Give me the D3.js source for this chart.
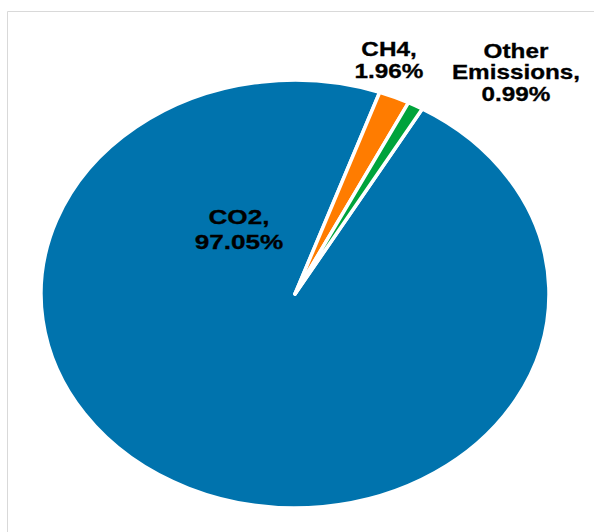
<!DOCTYPE html>
<html>
<head>
<meta charset="utf-8">
<script src="https://cdn.jsdelivr.net/npm/d3@7"></script>
<style>
  html, body { margin: 0; padding: 0; background: #fff; }
  svg { display: block; }
</style>
</head>
<body>
<div id="chart"></div>
<script>
(() => {
  const width = 594;
  const height = 532;

  // data
  const categories = ["CO2", "CH4", "Other Emissions"];
  const shares = [97.05, 1.96, 0.99];
  const colors = ["#0073ad", "#ff7c00", "#00a33b"];

  // ellipse (the pie is stretched horizontally)
  const cx = 295, cy = 294;
  const rx = 254, ry = 214;
  const sx = rx / ry;

  const svg = d3.select("#chart")
    .append("svg")
    .attr("width", width)
    .attr("height", height);

  // chart area border (top + left only visible)
  svg.append("path")
    .attr("d", `M7.5,${height} V11.5 H${width}`)
    .attr("fill", "none")
    .attr("stroke", "#d9d9d9")
    .attr("stroke-width", 1);

  const pie = d3.pie()
    .sort(null)
    .value(d => d)
    .startAngle(30.1 * Math.PI / 180)
    .endAngle(30.1 * Math.PI / 180 + 2 * Math.PI);

  const arcs = pie(shares);

  const arc = d3.arc()
    .innerRadius(0)
    .outerRadius(ry);

  const g = svg.append("g")
    .attr("transform", `translate(${cx},${cy}) scale(${sx},1)`);

  g.selectAll("path")
    .data(arcs)
    .join("path")
    .attr("d", arc)
    .attr("fill", (d, i) => colors[i])
    .attr("stroke", "#fff")
    .attr("stroke-width", 3.5)
    .attr("stroke-linejoin", "round")
    .attr("vector-effect", "non-scaling-stroke");

  // data labels (moved by hand in the original)
  const labelLines = [
    ["CO2,", "97.05%"],
    ["CH4,", "1.96%"],
    ["Other", "Emissions,", "0.99%"]
  ].map((l, i) => l.map(s => s.replace(/\d+\.\d+%/, shares[i].toFixed(2) + "%")));

  const labelPos = [
    { x: 239, y: 224, size: 21, lh: 25 },
    { x: 389, y: 56, size: 19.5, lh: 22 },
    { x: 516, y: 58, size: 19.5, lh: 21.5 }
  ];

  const labels = svg.append("g")
    .attr("font-family", "'Liberation Sans', Arial, sans-serif")
    .attr("font-weight", "bold")
    .attr("fill", "#000")
    .attr("text-anchor", "middle")
    .attr("stroke", "#000")
    .attr("stroke-width", 0.3);

  labelLines.forEach((lines, i) => {
    const p = labelPos[i];
    const t = labels.append("text")
      .attr("font-size", p.size)
      .attr("transform", `translate(${p.x},${p.y}) scale(${sx * 1.05},1)`);
    lines.forEach((s, j) => {
      t.append("tspan")
        .attr("x", 0)
        .attr("y", j * p.lh)
        .text(s);
    });
  });
})();
</script>
</body>
</html>
